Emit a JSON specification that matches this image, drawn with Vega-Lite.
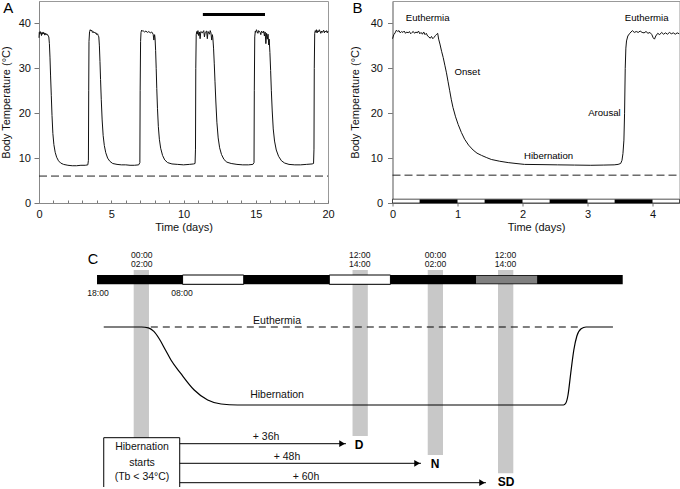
{
  "$schema": "https://vega.github.io/schema/vega-lite/v6.json",
  "padding": 0,
  "spacing": 2,
  "config": {
    "font": "Liberation Sans",
    "view": {"stroke": "#999", "strokeWidth": 1},
    "axis": {"grid": false, "domainColor": "#888", "tickColor": "#777", "labelColor": "#111", "titleColor": "#111", "labelFontSize": 11, "titleFontSize": 11, "titleFontWeight": "normal", "labelFlush": false, "labelOverlap": false}
  },
  "vconcat": [
    {
      "spacing": 13.5,
      "hconcat": [
        {
          "width": 289,
          "height": 202,
          "encoding": {
            "x": {"field": "x", "type": "quantitative", "scale": {"domain": [0, 20], "nice": false, "zero": false},
                  "axis": {"title": "Time (days)", "values": [0,1,2,3,4,5,6,7,8,9,10,11,12,13,14,15,16,17,18,19,20], "labelExpr": "datum.value % 5 === 0 ? datum.label : ''", "tickSize": -3, "labelPadding": 8.6, "titlePadding": 2}},
            "y": {"field": "y", "type": "quantitative", "scale": {"domain": [0, 45], "nice": false, "zero": false},
                  "axis": {"title": "Body Temperature (°C)", "values": [0, 10, 20, 30, 40], "tickSize": 5, "labelPadding": 3.5, "titlePadding": 6.5}}
          },
          "layer": [
            {"data": {"values": [{"x": 0, "x2": 20, "y": 6.0}]}, "mark": {"type": "rule", "strokeDash": [8, 4], "color": "#222", "strokeWidth": 1}, "encoding": {"x2": {"field": "x2"}}},
            {"data": {"values": [
              {"x":0,"y":36.8},{"x":0.02,"y":38.0},{"x":0.05,"y":37.6},{"x":0.08,"y":38.2},{"x":0.11,"y":37.8},{"x":0.14,"y":38.0},{"x":0.17,"y":37.3},{"x":0.2,"y":37.9},{"x":0.24,"y":37.6},{"x":0.28,"y":38.1},{"x":0.32,"y":37.7},{"x":0.36,"y":37.9},{"x":0.4,"y":37.4},{"x":0.44,"y":37.8},{"x":0.48,"y":37.5},{"x":0.52,"y":37.7},{"x":0.56,"y":37.4},{"x":0.6,"y":37.5},{"x":0.64,"y":37.2},{"x":0.68,"y":37.0},
              {"x":0.72,"y":35.5},{"x":0.76,"y":32.5},{"x":0.8,"y":28.5},{"x":0.85,"y":24},{"x":0.9,"y":19.5},{"x":0.96,"y":15.5},{"x":1.03,"y":13.0},{"x":1.12,"y":11.3},{"x":1.22,"y":10.2},{"x":1.35,"y":9.4},{"x":1.5,"y":8.9},{"x":1.7,"y":8.6},{"x":2.0,"y":8.4},{"x":2.3,"y":8.3},{"x":2.6,"y":8.3},{"x":2.9,"y":8.4},{"x":3.2,"y":8.4},{"x":3.38,"y":8.5},
              {"x":3.42,"y":9.5},{"x":3.44,"y":25},{"x":3.46,"y":36},{"x":3.5,"y":38.2},{"x":3.55,"y":38.6},{"x":3.6,"y":38.3},{"x":3.65,"y":38.5},{"x":3.7,"y":38.0},{"x":3.75,"y":38.2},{"x":3.8,"y":37.9},{"x":3.85,"y":38.1},{"x":3.9,"y":37.8},{"x":3.95,"y":37.9},{"x":4.0,"y":37.5},{"x":4.05,"y":37.7},{"x":4.1,"y":37.3},{"x":4.14,"y":37.0},
              {"x":4.18,"y":35.0},{"x":4.22,"y":31.5},{"x":4.26,"y":27.5},{"x":4.31,"y":23},{"x":4.37,"y":18.5},{"x":4.44,"y":15},{"x":4.52,"y":12.8},{"x":4.62,"y":11.2},{"x":4.75,"y":10.0},{"x":4.9,"y":9.3},{"x":5.1,"y":8.8},{"x":5.4,"y":8.6},{"x":5.7,"y":8.5},{"x":6.0,"y":8.5},{"x":6.3,"y":8.4},{"x":6.6,"y":8.4},{"x":6.9,"y":8.5},
              {"x":6.98,"y":9.0},{"x":7.0,"y":25},{"x":7.03,"y":36},{"x":7.06,"y":38.0},{"x":7.1,"y":38.5},{"x":7.15,"y":38.3},{"x":7.2,"y":38.4},{"x":7.3,"y":38.1},{"x":7.4,"y":38.3},{"x":7.5,"y":38.0},{"x":7.6,"y":38.2},{"x":7.7,"y":37.9},{"x":7.8,"y":38.1},{"x":7.9,"y":37.6},{"x":7.95,"y":36.3},{"x":8.0,"y":37.5},{"x":8.03,"y":36.8},
              {"x":8.07,"y":34},{"x":8.11,"y":30},{"x":8.15,"y":25.5},{"x":8.2,"y":21},{"x":8.26,"y":17},{"x":8.33,"y":14.2},{"x":8.42,"y":12.2},{"x":8.55,"y":10.6},{"x":8.7,"y":9.6},{"x":8.9,"y":9.0},{"x":9.2,"y":8.7},{"x":9.6,"y":8.6},{"x":10.0,"y":8.5},{"x":10.4,"y":8.6},{"x":10.7,"y":8.7},{"x":10.8,"y":8.8},
              {"x":10.83,"y":12},{"x":10.85,"y":30},{"x":10.88,"y":37.5},{"x":10.92,"y":38.2},{"x":10.95,"y":37.6},{"x":11.0,"y":38.4},{"x":11.05,"y":37.3},{"x":11.1,"y":38.1},{"x":11.15,"y":36.6},{"x":11.2,"y":38.2},{"x":11.3,"y":37.9},{"x":11.4,"y":38.4},{"x":11.45,"y":37.0},{"x":11.5,"y":38.0},{"x":11.6,"y":38.3},{"x":11.65,"y":36.6},{"x":11.7,"y":38.2},{"x":11.8,"y":37.6},{"x":11.85,"y":38.4},{"x":11.9,"y":37.9},{"x":11.95,"y":36.3},{"x":12.0,"y":37.5},{"x":12.03,"y":36.8},
              {"x":12.08,"y":34.5},{"x":12.13,"y":31},{"x":12.18,"y":27},{"x":12.24,"y":22.5},{"x":12.31,"y":18},{"x":12.4,"y":14.5},{"x":12.5,"y":12.3},{"x":12.63,"y":10.8},{"x":12.8,"y":9.7},{"x":13.0,"y":9.1},{"x":13.3,"y":8.8},{"x":13.7,"y":8.6},{"x":14.1,"y":8.5},{"x":14.5,"y":8.5},{"x":14.8,"y":8.6},
              {"x":14.88,"y":9.0},{"x":14.9,"y":25},{"x":14.93,"y":37},{"x":14.97,"y":38.3},{"x":15.0,"y":38.0},{"x":15.05,"y":38.6},{"x":15.1,"y":38.2},{"x":15.15,"y":37.8},{"x":15.2,"y":38.4},{"x":15.3,"y":38.0},{"x":15.35,"y":37.5},{"x":15.4,"y":38.3},{"x":15.5,"y":37.9},{"x":15.55,"y":38.3},{"x":15.6,"y":37.2},{"x":15.65,"y":38.1},{"x":15.7,"y":35.5},{"x":15.75,"y":37.8},{"x":15.8,"y":36.5},{"x":15.85,"y":37.6},{"x":15.9,"y":35.2},{"x":15.93,"y":36.5},
              {"x":15.98,"y":33.5},{"x":16.03,"y":29.5},{"x":16.08,"y":25},{"x":16.14,"y":20.5},{"x":16.21,"y":16.5},{"x":16.3,"y":13.8},{"x":16.42,"y":11.8},{"x":16.58,"y":10.4},{"x":16.78,"y":9.4},{"x":17.0,"y":8.9},{"x":17.3,"y":8.6},{"x":17.7,"y":8.5},{"x":18.1,"y":8.5},{"x":18.5,"y":8.6},{"x":18.9,"y":8.7},{"x":19.0,"y":8.8},
              {"x":19.03,"y":12},{"x":19.05,"y":30},{"x":19.08,"y":37.8},{"x":19.12,"y":38.4},{"x":19.17,"y":38.0},{"x":19.2,"y":38.6},{"x":19.25,"y":37.9},{"x":19.3,"y":38.4},{"x":19.35,"y":38.1},{"x":19.4,"y":38.6},{"x":19.5,"y":37.8},{"x":19.55,"y":38.3},{"x":19.6,"y":38.0},{"x":19.7,"y":38.5},{"x":19.75,"y":37.9},{"x":19.8,"y":38.3},{"x":19.85,"y":38.1},{"x":19.9,"y":38.4},{"x":19.95,"y":37.9},{"x":20.0,"y":38.3}
            ]}, "mark": {"type": "line", "color": "#111", "strokeWidth": 1}},
            {"data": {"values": [{"x": 11.34, "x2": 15.64, "y": 41.97}]}, "mark": {"type": "rule", "color": "#000", "strokeWidth": 3}, "encoding": {"x2": {"field": "x2"}}},
            {"data": {"values": [{"x": -2.13, "y": 43.5, "label": "A"}]}, "mark": {"type": "text", "fontSize": 15, "color": "#000"}, "encoding": {"text": {"field": "label"}}}
          ]
        },
        {
          "width": 287,
          "height": 202,
          "encoding": {
            "x": {"field": "x", "type": "quantitative", "scale": {"domain": [0, 4.415], "nice": false, "zero": false},
                  "axis": {"title": "Time (days)", "values": [0, 1, 2, 3, 4], "tickSize": 3, "labelPadding": 2.6, "titlePadding": 2}},
            "y": {"field": "y", "type": "quantitative", "scale": {"domain": [0, 45], "nice": false, "zero": false},
                  "axis": {"title": "Body Temperature (°C)", "values": [0, 10, 20, 30, 40], "tickSize": 5, "labelPadding": 5, "titlePadding": 9.5}}
          },
          "layer": [
            {"data": {"values": [{"x": 0, "x2": 4.415, "y": 6.2}]}, "mark": {"type": "rule", "strokeDash": [8, 4], "color": "#222", "strokeWidth": 1}, "encoding": {"x2": {"field": "x2"}}},
            {"data": {"values": [{"x": 0, "x2": 4.415, "y": 0, "y2": 0.85}]}, "mark": {"type": "rect", "fill": "#fff", "stroke": "#222", "strokeWidth": 0.8}, "encoding": {"x2": {"field": "x2"}, "y2": {"field": "y2"}}},
            {"data": {"values": [
              {"x": 0.417, "x2": 1.0, "y": 0, "y2": 0.8},
              {"x": 1.417, "x2": 2.0, "y": 0, "y2": 0.8},
              {"x": 2.417, "x2": 3.0, "y": 0, "y2": 0.8},
              {"x": 3.417, "x2": 4.0, "y": 0, "y2": 0.8}
            ]}, "mark": {"type": "rect", "color": "#000"}, "encoding": {"x2": {"field": "x2"}, "y2": {"field": "y2"}}},
            {"data": {"values": [
              {"x":0,"y":36.6},{"x":0.02,"y":37.5},{"x":0.04,"y":37.9},{"x":0.06,"y":38.5},{"x":0.08,"y":38.2},{"x":0.1,"y":38.4},{"x":0.12,"y":37.9},{"x":0.14,"y":38.2},{"x":0.16,"y":38.0},{"x":0.18,"y":38.3},{"x":0.2,"y":37.8},{"x":0.22,"y":38.1},{"x":0.24,"y":37.9},{"x":0.26,"y":38.2},{"x":0.28,"y":37.7},{"x":0.3,"y":38.0},{"x":0.32,"y":38.2},{"x":0.34,"y":37.8},{"x":0.36,"y":38.1},{"x":0.38,"y":37.9},{"x":0.4,"y":38.3},{"x":0.42,"y":37.7},{"x":0.44,"y":38.0},{"x":0.46,"y":37.6},{"x":0.48,"y":38.1},{"x":0.5,"y":37.5},{"x":0.52,"y":37.8},{"x":0.54,"y":37.2},{"x":0.56,"y":37.0},{"x":0.58,"y":36.7},{"x":0.6,"y":37.1},{"x":0.62,"y":36.6},{"x":0.64,"y":36.9},{"x":0.66,"y":37.3},{"x":0.68,"y":37.6},{"x":0.695,"y":37.8},{"x":0.71,"y":36.5},
              {"x":0.73,"y":35.4},{"x":0.755,"y":33.8},{"x":0.78,"y":32.4},{"x":0.805,"y":30.7},{"x":0.83,"y":29.0},{"x":0.855,"y":27.0},{"x":0.88,"y":25.0},{"x":0.905,"y":23.0},{"x":0.93,"y":21.3},{"x":0.97,"y":19.2},{"x":1.01,"y":17.5},{"x":1.06,"y":15.7},{"x":1.11,"y":14.2},{"x":1.17,"y":12.9},{"x":1.24,"y":11.8},{"x":1.3,"y":11.1},{"x":1.37,"y":10.6},{"x":1.45,"y":10.1},{"x":1.52,"y":9.7},{"x":1.65,"y":9.3},{"x":1.78,"y":9.0},{"x":1.9,"y":8.8},{"x":2.03,"y":8.6},{"x":2.3,"y":8.55},{"x":2.54,"y":8.5},{"x":2.8,"y":8.45},{"x":3.05,"y":8.4},{"x":3.25,"y":8.45},{"x":3.41,"y":8.5},{"x":3.47,"y":8.6},{"x":3.51,"y":8.8},
              {"x":3.53,"y":9.5},{"x":3.545,"y":11},{"x":3.56,"y":14},{"x":3.57,"y":20},{"x":3.58,"y":30},{"x":3.59,"y":34.5},{"x":3.6,"y":36.1},{"x":3.62,"y":37.2},{"x":3.65,"y":37.8},{"x":3.69,"y":38.4},{"x":3.72,"y":38.0},{"x":3.75,"y":38.2},{"x":3.78,"y":38.0},{"x":3.81,"y":38.3},{"x":3.84,"y":38.0},{"x":3.87,"y":37.9},{"x":3.9,"y":38.2},{"x":3.93,"y":37.8},{"x":3.96,"y":38.0},{"x":3.99,"y":37.5},{"x":4.01,"y":36.8},{"x":4.03,"y":36.5},{"x":4.05,"y":37.2},{"x":4.08,"y":37.8},{"x":4.11,"y":37.5},{"x":4.14,"y":38.0},{"x":4.17,"y":37.6},{"x":4.2,"y":37.9},{"x":4.23,"y":37.6},{"x":4.26,"y":38.0},{"x":4.29,"y":37.7},{"x":4.32,"y":37.9},{"x":4.35,"y":37.6},{"x":4.38,"y":37.9},{"x":4.41,"y":37.7}
            ]}, "mark": {"type": "line", "color": "#111", "strokeWidth": 1}},
            {"data": {"values": [
              {"x": 0.54, "y": 41.3, "label": "Euthermia"},
              {"x": 3.91, "y": 41.3, "label": "Euthermia"},
              {"x": 1.15, "y": 29.2, "label": "Onset"},
              {"x": 3.26, "y": 20.0, "label": "Arousal"},
              {"x": 2.4, "y": 10.4, "label": "Hibernation"}
            ]}, "mark": {"type": "text", "fontSize": 9.6, "color": "#000"}, "encoding": {"text": {"field": "label"}}},
            {"data": {"values": [{"x": -0.54, "y": 43.5, "label": "B"}]}, "mark": {"type": "text", "fontSize": 15, "color": "#000"}, "encoding": {"text": {"field": "label"}}}
          ]
        }
      ]
    },
    {
      "width": 641,
      "height": 251,
      "view": {"stroke": null},
      "encoding": {
        "x": {"field": "x", "type": "quantitative", "scale": {"domain": [-9.49, 95.37], "nice": false, "zero": false}, "axis": null},
        "y": {"field": "y", "type": "quantitative", "scale": {"domain": [0.5, 126], "nice": false, "zero": false}, "axis": null}
      },
      "layer": [
        {"data": {"values": [
          {"x": 6.0, "x2": 8.5, "y": 20, "y2": 109},
          {"x": 41.8, "x2": 44.3, "y": 26, "y2": 109},
          {"x": 54.1, "x2": 56.6, "y": 16.5, "y2": 109},
          {"x": 65.6, "x2": 68.1, "y": 7.35, "y2": 109}
        ]}, "mark": {"type": "rect", "color": "#c8c8c8"}, "encoding": {"x2": {"field": "x2"}, "y2": {"field": "y2"}}},
        {"data": {"values": [{"x": 0, "x2": 86, "y": 101.85, "y2": 106.5}]}, "mark": {"type": "rect", "color": "#000"}, "encoding": {"x2": {"field": "x2"}, "y2": {"field": "y2"}}},
        {"data": {"values": [{"x": 14, "x2": 24, "y": 101.85, "y2": 106.5}, {"x": 38, "x2": 48, "y": 101.85, "y2": 106.5}]}, "mark": {"type": "rect", "fill": "#fff", "stroke": "#000", "strokeWidth": 1}, "encoding": {"x2": {"field": "x2"}, "y2": {"field": "y2"}}},
        {"data": {"values": [{"x": 62, "x2": 72, "y": 102.2, "y2": 106.1}]}, "mark": {"type": "rect", "color": "#808080"}, "encoding": {"x2": {"field": "x2"}, "y2": {"field": "y2"}}},
        {"data": {"values": [{"x": 8.8, "x2": 79.2, "y": 80.5}]}, "mark": {"type": "rule", "color": "#000", "strokeWidth": 1.2, "strokeDash": [7, 5]}, "encoding": {"x2": {"field": "x2"}}},
        {"data": {"values": [
          {"x": 1.1, "y": 80.5}, {"x": 7.3, "y": 80.5}, {"x": 8.4, "y": 80.1}, {"x": 9.3, "y": 78.3}, {"x": 10.2, "y": 74.5}, {"x": 11.2, "y": 69}, {"x": 12.1, "y": 64}, {"x": 13.7, "y": 57.3}, {"x": 15.9, "y": 49}, {"x": 18.1, "y": 44}, {"x": 20.3, "y": 42}, {"x": 23, "y": 41.5},
          {"x": 76.3, "y": 41.5}, {"x": 76.7, "y": 42.5}, {"x": 77.05, "y": 46.5}, {"x": 77.5, "y": 57.5}, {"x": 78.0, "y": 69}, {"x": 78.5, "y": 76}, {"x": 79.2, "y": 79.6}, {"x": 80, "y": 80.5}, {"x": 84.4, "y": 80.5}
        ]}, "mark": {"type": "line", "color": "#000", "strokeWidth": 1.2, "interpolate": "monotone"}},
        {"data": {"values": [{"x": 1.1, "x2": 13.53, "y": 0.5, "y2": 25.15}]}, "mark": {"type": "rect", "color": "#fff"}, "encoding": {"x2": {"field": "x2"}, "y2": {"field": "y2"}}},
        {"data": {"values": [{"x": 1.1, "y": 0.5, "o": 1}, {"x": 1.1, "y": 25.15, "o": 2}, {"x": 13.53, "y": 25.15, "o": 3}, {"x": 13.53, "y": 0.5, "o": 4}]}, "mark": {"type": "line", "color": "#000", "strokeWidth": 1}, "encoding": {"order": {"field": "o", "type": "quantitative"}}},
        {"data": {"values": [{"x": 13.53, "x2": 40.73, "y": 22.15}, {"x": 13.53, "x2": 53.0, "y": 12.35}, {"x": 13.53, "x2": 63.63, "y": 2.65}]}, "mark": {"type": "rule", "color": "#000", "strokeWidth": 1}, "encoding": {"x2": {"field": "x2"}}},
        {"data": {"values": [{"x": 40.1, "y": 22.15}, {"x": 52.37, "y": 12.35}, {"x": 63.0, "y": 2.65}]}, "mark": {"type": "point", "shape": "triangle-right", "filled": true, "color": "#000", "size": 45, "opacity": 1}},
        {"data": {"values": [
          {"x": 7.33, "y": 116.5, "label": "00:00"}, {"x": 7.33, "y": 111.85, "label": "02:00"},
          {"x": 42.99, "y": 116.5, "label": "12:00"}, {"x": 42.99, "y": 111.85, "label": "14:00"},
          {"x": 55.37, "y": 116.5, "label": "00:00"}, {"x": 55.37, "y": 111.85, "label": "02:00"},
          {"x": 66.83, "y": 116.5, "label": "12:00"}, {"x": 66.83, "y": 111.85, "label": "14:00"},
          {"x": 0.16, "y": 97.65, "label": "18:00"}, {"x": 13.9, "y": 97.65, "label": "08:00"}
        ]}, "mark": {"type": "text", "fontSize": 8.6, "color": "#111"}, "encoding": {"text": {"field": "label"}}},
        {"data": {"values": [
          {"x": 29.45, "y": 83.5, "label": "Euthermia"},
          {"x": 29.45, "y": 46.5, "label": "Hibernation"},
          {"x": 7.36, "y": 20.35, "label": "Hibernation"},
          {"x": 7.36, "y": 12.65, "label": "starts"},
          {"x": 7.36, "y": 5.35, "label": "(Tb < 34°C)"},
          {"x": 27.65, "y": 25.35, "label": "+ 36h"},
          {"x": 31.08, "y": 15.35, "label": "+ 48h"},
          {"x": 34.19, "y": 5.65, "label": "+ 60h"}
        ]}, "mark": {"type": "text", "fontSize": 10.5, "color": "#111"}, "encoding": {"text": {"field": "label"}}},
        {"data": {"values": [
          {"x": 42.86, "y": 21.5, "label": "D"},
          {"x": 55.29, "y": 12.0, "label": "N"},
          {"x": 66.9, "y": 3.2, "label": "SD"}
        ]}, "mark": {"type": "text", "fontSize": 12, "fontWeight": "bold", "color": "#000"}, "encoding": {"text": {"field": "label"}}},
        {"data": {"values": [{"x": -0.65, "y": 114, "label": "C"}]}, "mark": {"type": "text", "fontSize": 14.5, "color": "#000"}, "encoding": {"text": {"field": "label"}}}
      ]
    }
  ]
}
